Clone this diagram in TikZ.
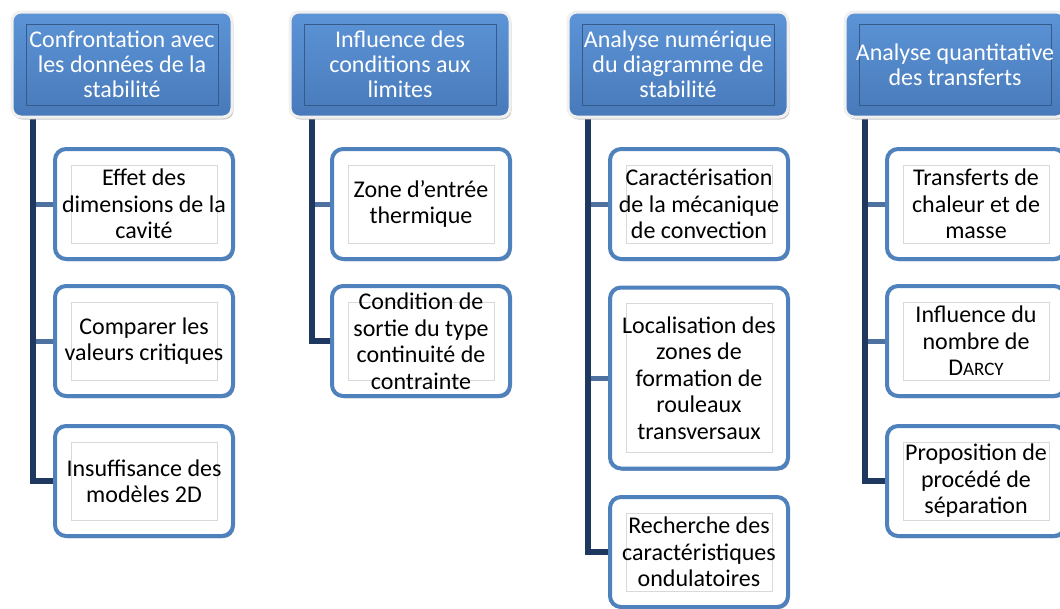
\documentclass[tikz,border=0pt]{standalone}
\usepackage{fontspec}
\setmainfont{Carlito}
\usetikzlibrary{shadows}
\definecolor{hblue}{RGB}{92,148,215}
\definecolor{hblueD}{RGB}{72,122,186}
\definecolor{cblue}{RGB}{79,129,189}
\definecolor{navy}{RGB}{31,56,95}
\definecolor{branchc}{RGB}{79,113,160}
\pgfdeclarelayer{bg}
\pgfsetlayers{bg,main}
\tikzset{
 hframe/.style={draw=hblueD!75!black, line width=0.8pt},
 kframe/.style={draw=gray!30, line width=0.8pt},
 hdr/.style={rectangle, rounded corners=9pt, top color=hblue, bottom color=hblueD, draw=gray!12, line width=3pt,
   minimum width=220pt, minimum height=105pt, inner sep=0pt, align=center, text=white,
   font=\fontsize{24}{25}\selectfont,
   path picture={\draw[hframe,sharp corners] ([shift={(14pt,-12pt)}]path picture bounding box.north west) rectangle ([shift={(-14pt,12pt)}]path picture bounding box.south east);},
   drop shadow={shadow xshift=1.5pt, shadow yshift=-2.5pt, fill=gray!60, opacity=0.7}},
 kid/.style={rectangle, rounded corners=11pt, fill=white, draw=cblue, line width=4pt,
   minimum width=178pt, minimum height=110pt, inner sep=0pt, align=center, text=black,
   font=\fontsize{24}{26.5}\selectfont,
   path picture={\draw[kframe,sharp corners] ([shift={(16pt,-16pt)}]path picture bounding box.north west) rectangle ([shift={(-16pt,16pt)}]path picture bounding box.south east);},
   drop shadow={shadow xshift=1.5pt, shadow yshift=-2pt, fill=navy, opacity=0.6}},
 trunk/.style={draw=navy, line width=6pt},
 twig/.style={draw=branchc, line width=5pt},
}
\begin{document}
\begin{tikzpicture}[x=1pt,y=-1pt]
\useasboundingbox (0,0) rectangle (1060,608);
\clip (0,0) rectangle (1060,608);
% headers
\node[hdr] (h1) at (122,64.5) {Confrontation avec\\les données de la\\stabilité};
\node[hdr] (h2) at (400,64.5) {Influence des\\conditions aux\\limites};
\node[hdr] (h3) at (678,64.5) {Analyse numérique\\du diagramme de\\stabilité};
\node[hdr] (h4) at (955,64.5) {Analyse quantitative\\des transferts};
% trunk coordinates
\coordinate (t1) at (33,117);
\coordinate (t2) at (312,117);
\coordinate (t3) at (588,117);
\coordinate (t4) at (865,117);
% column 1
\node[kid] (c11) at (144,204) {Effet des\\dimensions de la\\cavité};
\node[kid] (c12) at (144,341) {Comparer les\\valeurs critiques};
\node[kid] (c13) at (144,481) {Insuffisance des\\modèles 2D};
% column 2
\node[kid] (c21) at (421,204) {Zone d’entrée\\thermique};
\node[kid] (c22) at (421,341) {Condition de\\sortie du type\\continuité de\\contrainte};
% column 3
\node[kid] (c31) at (699,204) {Caractérisation\\de la mécanique\\de convection};
\node[kid, minimum height=181pt] (c32) at (699,378) {Localisation des\\zones de\\formation de\\rouleaux\\transversaux};
\node[kid] (c33) at (699,552) {Recherche des\\caractéristiques\\ondulatoires};
% column 4
\node[kid] (c41) at (976,204) {Transferts de\\chaleur et de\\masse};
\node[kid] (c42) at (976,341) {Influence du\\nombre de\\D{\fontsize{19}{26.5}\selectfont ARCY}};
\node[kid] (c43) at (976,481) {Proposition de\\procédé de\\séparation};
% connectors
\begin{pgfonlayer}{bg}
\draw[twig] (c11.west -| t1) -- (c11.west);
\draw[twig] (c12.west -| t1) -- (c12.west);
\draw[twig] (c21.west -| t2) -- (c21.west);
\draw[twig] (c31.west -| t3) -- (c31.west);
\draw[twig] (c32.west -| t3) -- (c32.west);
\draw[twig] (c41.west -| t4) -- (c41.west);
\draw[twig] (c42.west -| t4) -- (c42.west);
\draw[trunk] (h1.south -| t1) |- (c13.west);
\draw[trunk] (h2.south -| t2) |- (c22.west);
\draw[trunk] (h3.south -| t3) |- (c33.west);
\draw[trunk] (h4.south -| t4) |- (c43.west);
\end{pgfonlayer}
\end{tikzpicture}
\end{document}
